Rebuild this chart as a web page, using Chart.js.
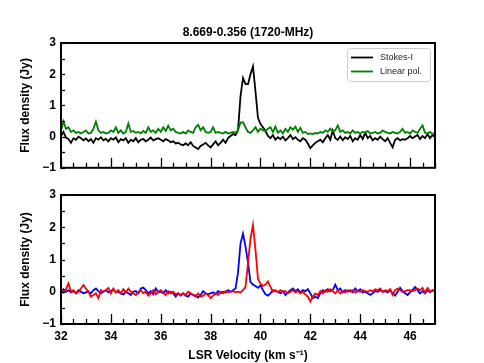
<!DOCTYPE html>
<html>
<head>
<meta charset="utf-8">
<script src="https://cdn.jsdelivr.net/npm/chart.js@4.4.1/dist/chart.umd.min.js"></script>
<style>
  html, body { margin: 0; padding: 0; background: #fff; }
  #wrap { position: relative; width: 484px; height: 363px; }
  #wrap canvas { position: absolute; left: 0; }
</style>
</head>
<body>
<div id="wrap">
  <canvas id="top" width="484" height="180" style="top:0;width:484px;height:180px"></canvas>
  <canvas id="bottom" width="484" height="183" style="top:180px;width:484px;height:183px"></canvas>
</div>
<script>
// channel grid (km/s)
const vStart = 32.0;
const vStep = 0.1;

const stokesI = [
  0.02, 0.15, -0.03, -0.08, -0.2, -0.05, -0.1, 0.0, -0.05, -0.12,
  -0.06, -0.15, -0.08, -0.2, -0.05, -0.1, -0.02, -0.12, -0.07, -0.15,
  -0.05, -0.1, -0.03, -0.18, -0.08, -0.12, -0.05, -0.2, -0.1, -0.15,
  -0.05, -0.18, -0.1, -0.08, -0.15, -0.1, -0.03, -0.12, -0.08, -0.05,
  -0.1, -0.15, -0.08, -0.12, -0.18, -0.15, -0.22, -0.2, -0.25, -0.28,
  -0.22, -0.28, -0.18, -0.3, -0.35, -0.4, -0.3, -0.25, -0.2, -0.28,
  -0.35, -0.25, -0.15, -0.28, -0.2, -0.1, -0.2, -0.05, 0.02, 0.08,
  0.05, 0.2, 1.3, 1.88, 1.68, 1.68, 2.0, 2.25, 1.45, 0.6,
  0.4, 0.3, 0.18, 0.02, -0.05, 0.05, -0.1, -0.02, -0.08, 0.0,
  -0.12, -0.05, 0.05, -0.08, -0.02, -0.1, -0.15, -0.05, -0.1, -0.22,
  -0.37, -0.28, -0.2, -0.15, -0.1, -0.18, -0.05, 0.05, -0.1, 0.2,
  -0.05, -0.1, 0.0, -0.12, -0.02, -0.08, 0.02, -0.15, -0.05, -0.1,
  0.05, -0.08, 0.12, -0.05, 0.02, -0.12, -0.05, -0.1, 0.0, -0.08,
  -0.15, -0.05, -0.2, -0.34, -0.1, -0.05, -0.12, -0.08, -0.1, -0.05,
  0.02, -0.05, 0.0, 0.05, -0.08, 0.02, -0.05, 0.08, -0.05, 0.05,
  -0.02
];

const linearPol = [
  0.18, 0.49, 0.25, 0.3, 0.15, 0.2, 0.12, 0.15, 0.1, 0.15,
  0.2, 0.1, 0.12, 0.25, 0.48, 0.2, 0.12, 0.15, 0.1, 0.12,
  0.2, 0.15, 0.3, 0.12, 0.2, 0.1, 0.15, 0.42, 0.15, 0.18,
  0.12, 0.15, 0.1, 0.18, 0.12, 0.3, 0.15, 0.2, 0.12, 0.25,
  0.15, 0.3, 0.18, 0.35, 0.2, 0.25, 0.15, 0.12, 0.1, 0.15,
  0.1, 0.2, 0.15, 0.12, 0.3, 0.38, 0.2, 0.3, 0.15, 0.12,
  0.15, 0.3, 0.12, 0.15, 0.12, 0.1, 0.15, 0.1, 0.12, 0.15,
  0.12, 0.2, 0.45, 0.46, 0.3, 0.15, 0.12, 0.2, 0.3, 0.15,
  0.25, 0.2, 0.18, 0.25, 0.3, 0.15, 0.32, 0.12, 0.2, 0.1,
  0.25, 0.15, 0.3, 0.22, 0.32, 0.15, 0.28, 0.12, 0.15, 0.08,
  0.1, 0.08, 0.12, 0.1, 0.15, 0.12, 0.2, 0.15, 0.25, 0.15,
  0.2, 0.36, 0.15, 0.2, 0.12, 0.15, 0.1, 0.2, 0.12, 0.15,
  0.1, 0.15, 0.12, 0.18, 0.1, 0.12, 0.15, 0.1, 0.12, 0.2,
  0.15, 0.12, 0.1, 0.15, 0.12, 0.1, 0.15, 0.25, 0.12, 0.15,
  0.1, 0.2, 0.15, 0.12, 0.25, 0.36, 0.12, 0.1, 0.15, 0.08,
  0.12
];

const rhcp = [
  0.02, 0.08, 0.0, 0.05, -0.02, 0.02, -0.05, 0.05, 0.0, -0.05,
  -0.02, 0.0, -0.05, 0.05, 0.1, 0.02, -0.05, 0.0, 0.05, -0.02,
  0.02, 0.08, -0.02, 0.0, -0.05, -0.08, 0.0, -0.05, -0.1, 0.0,
  0.02, -0.05, 0.1, 0.13, 0.05, -0.05, 0.02, -0.08, 0.1, -0.02,
  0.0, -0.05, 0.05, -0.05, 0.0, -0.05, -0.15, -0.05, -0.12, -0.05,
  -0.12, -0.15, -0.05, -0.1, -0.12, -0.18, -0.1, 0.02, -0.05, -0.08,
  -0.05, -0.02, -0.08, 0.02, -0.05, 0.0, -0.02, 0.05, 0.0, 0.05,
  0.1, 0.6, 1.5, 1.8, 1.4, 0.9, 0.3, 0.22, 0.18, 0.12,
  0.2, 0.05, -0.08, -0.12, -0.05, 0.05, 0.02, 0.0, -0.05, 0.02,
  -0.1, -0.02, 0.05, 0.1, 0.02, 0.08, -0.02, 0.05, 0.02, 0.08,
  -0.05, -0.2, -0.15, -0.2, -0.05, 0.05, 0.0, 0.08, 0.02, 0.05,
  0.22, 0.05, 0.1, -0.02, 0.05, 0.0, 0.05, -0.02, 0.1, 0.02,
  0.08, -0.02, 0.0, -0.05, -0.1, -0.05, 0.02, 0.0, 0.05, 0.0,
  0.02, -0.02, 0.05, -0.05, -0.12, 0.0, 0.12, 0.02, -0.05, -0.1,
  -0.02, 0.05, 0.15, 0.05, -0.05, 0.02, -0.05, 0.05, -0.02, 0.05,
  0.0
];

const lhcp = [
  0.05, -0.02, 0.08, 0.26, 0.0, 0.05, -0.05, 0.0, 0.1, 0.21,
  0.1, 0.0, -0.15, -0.1, -0.05, -0.2, 0.05, 0.0, 0.05, 0.12,
  -0.05, 0.1, -0.02, 0.05, -0.05, 0.08, -0.02, 0.1, 0.0, -0.05,
  -0.1, -0.02, 0.05, -0.05, 0.0, -0.12, -0.05, 0.05, -0.08, 0.0,
  0.05, -0.02, -0.1, 0.02, -0.05, 0.0, -0.08, -0.05, -0.1, -0.05,
  -0.1, 0.0, -0.05, -0.1, -0.15, -0.05, -0.15, -0.12, -0.05, -0.1,
  -0.2, -0.12, -0.05, -0.1, 0.0, -0.05, 0.02, -0.02, 0.0, 0.02,
  -0.02, 0.0, -0.02, 0.05, 0.15, 0.9, 1.65, 2.07, 1.3, 0.4,
  0.25, 0.18, 0.22, 0.32, 0.15, 0.0, 0.05, -0.02, 0.05, 0.0,
  0.02, -0.05, 0.0, 0.05, -0.02, 0.02, -0.05, 0.0, -0.08, -0.15,
  -0.3, -0.15, -0.05, -0.1, 0.02, -0.05, 0.05, 0.0, 0.08, 0.02,
  -0.05, 0.05, -0.05, 0.02, -0.02, 0.05, 0.0, 0.05, -0.02, 0.02,
  0.0, 0.05, 0.02, 0.0, 0.05, 0.02, 0.08, 0.05, 0.1, 0.0,
  0.05, 0.02, 0.08, -0.1, 0.05, 0.1, 0.05, 0.0, 0.02, 0.05,
  0.05, 0.02, 0.05, 0.1, 0.05, 0.12, -0.02, 0.12, 0.0, 0.05,
  0.02
];

const xTicks = [32, 34, 36, 38, 40, 42, 44, 46];
const yTicks = [-1, 0, 1, 2, 3];
const xRange = [32, 47];
const yRange = [-1, 3];

const titleText = '8.669-0.356 (1720-MHz)';
const yTitle = 'Flux density (Jy)';
const xTitle = 'LSR Velocity (km s\u207B\u00B9)';

const FONT = "'Liberation Sans', Arial, sans-serif";

function toPoints(vals) {
  return vals.map((y, i) => ({ x: vStart + i * vStep, y: y }));
}

// frame, inward ticks, title over the axes and the in-axes legend
const framePlugin = {
  id: 'frame',
  afterDraw(chart, args, opts) {
    const ctx = chart.ctx;
    const a = chart.chartArea;
    const xs = chart.scales.x, ys = chart.scales.y;
    ctx.save();
    ctx.strokeStyle = '#000';
    ctx.lineWidth = 1.3;
    for (let v = xRange[0]; v <= xRange[1] + 1e-9; v += 0.5) {
      const px = Math.round(xs.getPixelForValue(v)) + 0.5;
      const len = xTicks.includes(v) ? 10 : 5;
      ctx.beginPath();
      ctx.moveTo(px, a.bottom);
      ctx.lineTo(px, a.bottom - len);
      ctx.stroke();
    }
    for (let v = yRange[0]; v <= yRange[1] + 1e-9; v += 0.5) {
      const py = Math.round(ys.getPixelForValue(v)) + 0.5;
      ctx.beginPath();
      ctx.moveTo(a.left, py);
      ctx.lineTo(a.left + 4, py);
      ctx.stroke();
    }
    ctx.lineWidth = 2;
    ctx.strokeRect(a.left, a.top, a.right - a.left, a.bottom - a.top);

    if (opts.title) {
      ctx.fillStyle = '#000';
      ctx.font = 'bold 12px ' + FONT;
      ctx.textAlign = 'center';
      ctx.textBaseline = 'middle';
      ctx.fillText(opts.title, (a.left + a.right) / 2, 33);
      ctx.textAlign = 'left';
    }

    const lg = opts.legend;
    if (lg) {
      ctx.fillStyle = 'rgba(255,255,255,0.85)';
      ctx.strokeStyle = '#cccccc';
      ctx.lineWidth = 1;
      ctx.beginPath();
      ctx.roundRect(lg.x + 0.5, lg.y + 0.5, lg.w, lg.h, 3);
      ctx.fill();
      ctx.stroke();
      ctx.font = '9px ' + FONT;
      ctx.textBaseline = 'middle';
      lg.items.forEach((it, i) => {
        const yy = lg.y + lg.row0 + i * lg.dy;
        ctx.strokeStyle = it.color;
        ctx.lineWidth = 1.8;
        ctx.beginPath();
        ctx.moveTo(lg.x + 4, yy);
        ctx.lineTo(lg.x + 26, yy);
        ctx.stroke();
        ctx.fillStyle = '#222';
        ctx.fillText(it.label, lg.x + lg.tx, yy);
      });
    }
    ctx.restore();
  }
};

function makeOptions(showXLabels, padTop, xHeight, legend, title) {
  return {
    responsive: false,
    animation: false,
    layout: { padding: { top: padTop, right: 49, left: 0, bottom: 0 } },
    elements: { point: { radius: 0 }, line: { tension: 0, borderWidth: 1.8 } },
    plugins: {
      legend: { display: false },
      tooltip: { enabled: false },
      title: { display: false },
      frame: { legend: legend, title: title }
    },
    scales: {
      x: {
        type: 'linear',
        min: xRange[0],
        max: xRange[1],
        grid: { display: false, drawTicks: false },
        border: { display: false },
        afterBuildTicks: (s) => { s.ticks = xTicks.map(v => ({ value: v })); },
        afterFit: (s) => { s.height = xHeight; },
        ticks: {
          display: showXLabels,
          color: '#000',
          padding: 5,
          maxRotation: 0,
          font: { family: FONT, size: 12, weight: 'bold' }
        },
        title: {
          display: showXLabels,
          text: xTitle,
          color: '#000',
          padding: { top: 2, bottom: 0 },
          font: { family: FONT, size: 12, weight: 'bold' }
        }
      },
      y: {
        type: 'linear',
        min: yRange[0],
        max: yRange[1],
        grid: { display: false, drawTicks: false },
        border: { display: false },
        afterBuildTicks: (s) => { s.ticks = yTicks.map(v => ({ value: v })); },
        afterFit: (s) => { s.width = 61; },
        ticks: {
          color: '#000',
          padding: 5,
          font: { family: FONT, size: 12, weight: 'bold' },
          callback: (v) => String(v).replace('-', '\u2212')
        },
        title: {
          display: true,
          text: yTitle,
          color: '#000',
          padding: { top: 18, bottom: 0 },
          font: { family: FONT, size: 12, weight: 'bold' }
        }
      }
    }
  };
}

new Chart(document.getElementById('top'), {
  type: 'line',
  data: {
    datasets: [
      { label: 'Linear pol.', data: toPoints(linearPol), borderColor: '#008000' },
      { label: 'Stokes-I', data: toPoints(stokesI), borderColor: '#000000' }
    ]
  },
  options: makeOptions(false, 43, 9, {
    x: 347, y: 48, w: 83, h: 33, row0: 9.5, dy: 14, tx: 33,
    items: [{ label: 'Stokes-I', color: '#000000' }, { label: 'Linear pol.', color: '#008000' }]
  }, titleText),
  plugins: [framePlugin]
});

new Chart(document.getElementById('bottom'), {
  type: 'line',
  data: {
    datasets: [
      { label: 'LHCP', data: toPoints(lhcp), borderColor: '#ff0000' },
      { label: 'RHCP', data: toPoints(rhcp), borderColor: '#0000ff' }
    ]
  },
  options: makeOptions(true, 15, 39, {
    x: 366, y: 200, w: 64, h: 33, row0: 9.5, dy: 14.5, tx: 32,
    items: [{ label: 'RHCP', color: '#0000ff' }, { label: 'LHCP', color: '#ff0000' }]
  }, null),
  plugins: [framePlugin]
});
</script>
</body>
</html>
